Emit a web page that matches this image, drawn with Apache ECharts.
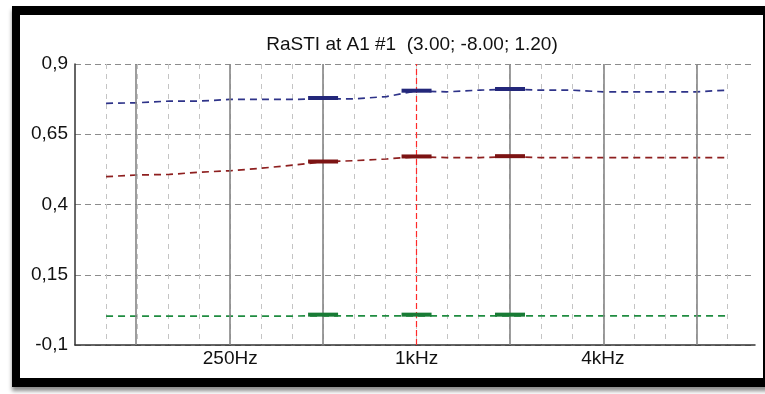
<!DOCTYPE html>
<html><head><meta charset="utf-8">
<script src="https://cdn.jsdelivr.net/npm/echarts@6/dist/echarts.min.js"></script>
<style>
html,body{margin:0;padding:0;background:#fff;width:765px;height:394px;overflow:hidden;}
#frame{position:absolute;left:12px;top:6px;width:760px;height:381px;box-sizing:border-box;border:9px solid #000;border-left-width:8px;box-shadow:0 4px 4px rgba(0,0,0,0.45);background:#fff;}
#chart{position:absolute;left:0;top:0;width:765px;height:394px;}
</style></head>
<body><div id="frame"></div><div id="chart"></div>
<script>
const titleText = 'RaSTI at A1 #1  (3.00; -8.00; 1.20)';
const bandFreqs = [100,125,160,200,250,315,400,500,630,800,1000,1250,1600,2000,2500,3150,4000,5000,6300,8000,10000];
const blueValues  = [0.760,0.762,0.768,0.768,0.774,0.774,0.774,0.776,0.776,0.784,0.804,0.801,0.807,0.810,0.807,0.807,0.801,0.801,0.801,0.801,0.807];
const redValues   = [0.499,0.505,0.507,0.515,0.520,0.529,0.540,0.552,0.556,0.562,0.570,0.567,0.567,0.570,0.567,0.567,0.567,0.567,0.567,0.567,0.567];
const greenValues = [0.003,0.003,0.003,0.003,0.003,0.003,0.003,0.004,0.004,0.004,0.004,0.004,0.004,0.004,0.004,0.004,0.004,0.004,0.004,0.004,0.004];
const markerFreqs = [500, 1000, 2000];
const blueMarkers  = [0.779, 0.805, 0.811];
const redMarkers   = [0.553, 0.571, 0.572];
const greenMarkers = [0.008, 0.008, 0.008];
const octaveFreqs = [125, 250, 500, 2000, 4000, 8000];
const cursorFreq = 1000;
const xTickFreqs = [250, 1000, 4000];
const xTickLabels = ['250Hz', '1kHz', '4kHz'];
const yTicks = [-0.1, 0.15, 0.4, 0.65, 0.9];

const band = f => 10 * Math.log10(f / 1000);
const font = "'Liberation Sans', Arial, sans-serif";
const pairs = (fs, vs) => fs.map((f, i) => [band(f), vs[i]]);

function lineSeries(vals, color) {
  return {type:'line', data: pairs(bandFreqs, vals), symbol:'none', z:4,
    lineStyle:{color, width:1.7, type:[7,5]}, animation:false};
}
function markerSeries(vals, color) {
  return {type:'scatter', data: pairs(markerFreqs, vals), symbol:'rect', symbolSize:[30,4], z:5,
    itemStyle:{color, opacity:1, borderWidth:0}, animation:false};
}

const chart = echarts.init(document.getElementById('chart'));
chart.setOption({
  animation:false,
  backgroundColor:'transparent',
  graphic:[{type:'text', x:412, y:45, style:{text:titleText, font:'19px ' + font, fill:'#111', textAlign:'center', textVerticalAlign:'middle'}}],
  grid:{left:75, right:10, top:64, bottom:49, containLabel:false},
  xAxis:{type:'value', min:-11, max:10.9, interval:1,
    axisLine:{show:true, onZero:false, lineStyle:{color:'#333', width:1.5}},
    axisTick:{show:false},
    splitLine:{show:true, showMinLine:false, showMaxLine:false, lineStyle:{color:'#c4c4c4', width:1, type:[5,5]}},
    axisLabel:{fontSize:19, fontFamily:font, color:'#111', margin:4,
      formatter: v => { const i = xTickFreqs.findIndex(f => Math.round(band(f)) === Math.round(v) && Math.abs(v - Math.round(v)) < 1e-6); return i >= 0 ? xTickLabels[i] : ''; }}
  },
  yAxis:{type:'value', min:yTicks[0], max:yTicks[yTicks.length-1], interval:yTicks[1]-yTicks[0],
    axisLine:{show:true, onZero:false, lineStyle:{color:'#333', width:1.5}},
    axisTick:{show:false},
    splitLine:{show:true, lineStyle:{color:'#8c8c8c', width:1, type:[6,4]}},
    axisLabel:{fontSize:19, fontFamily:font, color:'#111', margin:7,
      formatter: v => String(Math.round(v*100)/100).replace('.', ',')}
  },
  series:[
    {type:'line', data:[], z:1, silent:true,
      markLine:{silent:true, symbol:'none', label:{show:false}, animation:false,
        lineStyle:{color:'#858585', width:1.6, type:'solid'},
        data: octaveFreqs.map(f => ({xAxis: band(f)}))}},
    {type:'line', data:[], z:6, silent:true,
      markLine:{silent:true, symbol:'none', label:{show:false}, animation:false,
        lineStyle:{color:'#ff2a2a', width:1.2, type:[6,3]},
        data: [{xAxis: band(cursorFreq)}]}},
    lineSeries(blueValues, '#2e3389'),
    lineSeries(redValues, '#8e1f1f'),
    lineSeries(greenValues, '#1f8c40'),
    markerSeries(blueMarkers, '#23277a'),
    markerSeries(redMarkers, '#7c1313'),
    markerSeries(greenMarkers, '#187b35')
  ]
});
</script>
</body></html>
